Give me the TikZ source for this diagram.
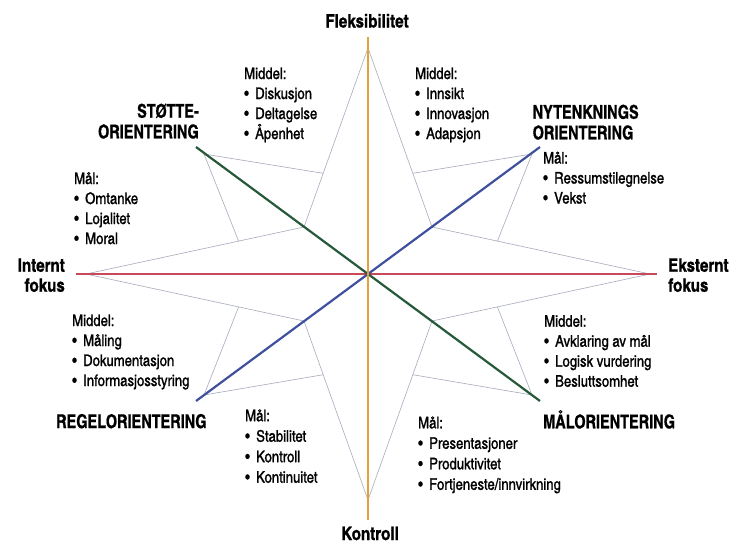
\documentclass[tikz,border=0pt]{standalone}
\usepackage{fontspec}
\setmainfont{texgyreheroscn-regular.otf}[BoldFont=texgyreheroscn-bold.otf, FakeBold=1.3]
\newfontfamily\capsfont{texgyreheroscn-bold.otf}[FakeStretch=0.93, FakeBold=0.8]
\newfontfamily\axisfont{texgyreheroscn-bold.otf}[FakeBold=0.8]
\newcommand{\blt}{\makebox[11pt][l]{\textbullet}}
\usetikzlibrary{calc}
\definecolor{starline}{RGB}{165,170,188}
\definecolor{axisorange}{RGB}{228,160,62}
\definecolor{axisred}{RGB}{200,72,92}
\definecolor{axisgreen}{RGB}{38,88,58}
\definecolor{axisblue}{RGB}{62,80,158}
\tikzset{
  starlinestyle/.style={draw=starline, line width=0.6pt, line join=miter},
  axisline/.style={line width=2.2pt},
  listtext/.style={inner sep=0pt, anchor=base west, align=left, font=\fontsize{16pt}{20pt}\selectfont},
  axislabel/.style={inner sep=0pt, font=\axisfont\fontsize{18.5pt}{20pt}\selectfont},
  caplabel/.style={inner sep=0pt, font=\capsfont\fontsize{19pt}{20.6pt}\selectfont}
}
\begin{document}
\begin{tikzpicture}[x=1pt,y=-1pt]
\useasboundingbox (0,0) rectangle (749,544);
% star geometry
\coordinate (C) at (368,274);
\coordinate (N) at (368,48);
\coordinate (S) at (368,500);
\coordinate (W) at (86,274);
\coordinate (E) at (650,274);
\coordinate (NWi) at (304,227);
\coordinate (NEi) at (432,227);
\coordinate (SWi) at (304,321);
\coordinate (SEi) at (432,321);
\coordinate (NWt) at (204,154);
\coordinate (NEt) at (532,154);
\coordinate (SWt) at (204,395);
\coordinate (SEt) at (532,395);
\draw[starlinestyle] (N) -- (NWi) -- (W) -- (SWi) -- (S) -- (SEi) -- (E) -- (NEi) -- cycle;
\draw[starlinestyle] ($(N)!0.7!(NWi)$) -- (NWt) -- ($(W)!0.7!(NWi)$);
\draw[starlinestyle] ($(N)!0.7!(NEi)$) -- (NEt) -- ($(E)!0.7!(NEi)$);
\draw[starlinestyle] ($(S)!0.7!(SWi)$) -- (SWt) -- ($(W)!0.7!(SWi)$);
\draw[starlinestyle] ($(S)!0.7!(SEi)$) -- (SEt) -- ($(E)!0.7!(SEi)$);
% axes
\coordinate (Ltop) at (368,37);
\coordinate (Lbot) at (368,520);
\coordinate (Lleft) at (76,274);
\coordinate (Lright) at (657,274);
\coordinate (Gstart) at (196,147);
\coordinate (Gend) at (540,401);
\coordinate (Bstart) at (196,401);
\coordinate (Bend) at (540,147);
\draw[axisline, draw=axisred] (Lleft) -- (Lright);
\draw[axisline, draw=axisgreen] (Gstart) -- (Gend);
\draw[axisline, draw=axisblue] (Bstart) -- (Bend);
\draw[axisline, draw=axisorange] (Ltop) -- (Lbot);
% axis labels
\node[axislabel, anchor=base] (flex) at (367,27.5) {Fleksibilitet};
\node[axislabel, anchor=base] (kontroll) at (370,540) {Kontroll};
\node[axislabel, anchor=base east, align=right] (intern) at (65,291.7) {Internt\\fokus};
\node[axislabel, anchor=base west, align=left] (ekstern) at (668,291.7) {Eksternt\\fokus};
% orientation labels
\node[caplabel, anchor=base east, align=right] (stotte) at (199,138.3) {STØTTE-\\ORIENTERING};
\node[caplabel, anchor=base west, align=left] (nytenk) at (532.5,139.3) {NYTENKNINGS\\ORIENTERING};
\node[caplabel, anchor=base west] (regel) at (56,428) {REGELORIENTERING};
\node[caplabel, anchor=base west] (maal) at (543,428.3) {MÅLORIENTERING};
% lists (anchored at the baseline of their last line)
\node[listtext] (tl) at (244,139) {Middel:\\\blt Diskusjon\\\blt Deltagelse\\\blt Åpenhet};
\node[listtext] (tr) at (415,139) {Middel:\\\blt Innsikt\\\blt Innovasjon\\\blt Adapsjon};
\node[listtext] (lft) at (74,244) {Mål:\\\blt Omtanke\\\blt Lojalitet\\\blt Moral};
\node[listtext] (rgt) at (543,203.5) {Mål:\\\blt Ressumstilegnelse\\\blt Vekst};
\node[listtext] (ll) at (72,386) {Middel:\\\blt Måling\\\blt Dokumentasjon\\\blt Informasjosstyring};
\node[listtext] (lr) at (544,386.7) {Middel:\\\blt Avklaring av mål\\\blt Logisk vurdering\\\blt Besluttsomhet};
\node[listtext, font=\fontsize{16pt}{20.5pt}\selectfont] (bl) at (245,482.7) {Mål:\\\blt Stabilitet\\\blt Kontroll\\\blt Kontinuitet};
\node[listtext, font=\fontsize{16pt}{20.5pt}\selectfont] (br) at (418,489.8) {Mål:\\\blt Presentasjoner\\\blt Produktivitet\\\blt Fortjeneste/innvirkning};
\end{tikzpicture}
\end{document}
